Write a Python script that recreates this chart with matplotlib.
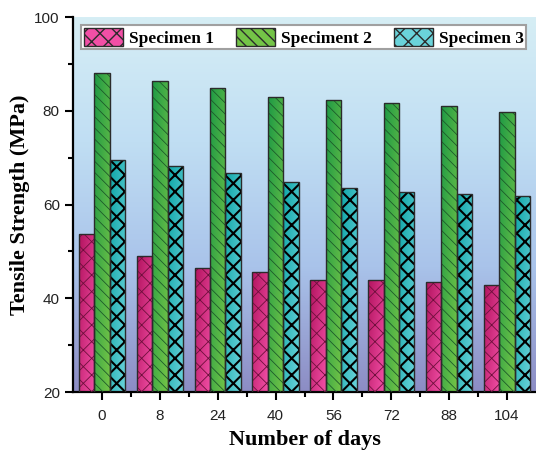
import numpy as np
import matplotlib
matplotlib.use('Agg')
import matplotlib.pyplot as plt
from matplotlib.patches import Patch
from matplotlib.colors import LinearSegmentedColormap

days = ['0', '8', '24', '40', '56', '72', '88', '104']
spec1 = [53.8, 49.0, 46.5, 45.7, 44.0, 43.8, 43.4, 42.9]
spec2 = [88.1, 86.4, 84.9, 82.9, 82.4, 81.7, 81.1, 79.7]
spec3 = [69.4, 68.3, 66.8, 64.9, 63.5, 62.6, 62.2, 61.9]
names = ['Specimen 1', 'Speciment 2', 'Specimen 3']

# dark -> light colours for bar gradients, hatch style and hatch colour
styles = [
    ('#b3145f', '#f24fa6', 'xx', '#6e0f3c', 0.6),
    ('#1e9a45', '#74c447', '\\\\\\', '#1d5a2a', 0.6),
    ('#0fa6a8', '#6ad3da', 'xx', '#000000', 1.5),
]

plt.rcParams['font.family'] = ['Liberation Sans', 'DejaVu Sans']
serif = dict(family='Liberation Serif', weight='bold')

fig = plt.figure(figsize=(5.36, 4.55), dpi=100)
ax = fig.add_axes([73 / 536, 63 / 455, 463 / 536, 375 / 455])

# background gradient
bg = LinearSegmentedColormap.from_list('bg', ['#8c8cc4', '#a9c3ea', '#c0def3', '#d6eef5'])
ax.imshow(np.linspace(0, 1, 256).reshape(-1, 1), cmap=bg, origin='lower',
          extent=[0, 1, 0, 1], transform=ax.transAxes, aspect='auto', zorder=0)

x = np.arange(len(days))
w = 0.267
series = [spec1, spec2, spec3]
ymin = 20
for i, (vals, (c0, c1, hatch, hc, hlw)) in enumerate(zip(series, styles)):
    pos = x + (i - 1) * w
    cmap = LinearSegmentedColormap.from_list('c%d' % i, [c0, c1])
    gx, gy = np.meshgrid(np.linspace(0, 1, 32), np.linspace(0, 1, 64))
    for xp, v in zip(pos, vals):
        grad = 0.55 * gx + 0.45 * (1 - gy)
        im = ax.imshow(grad, cmap=cmap, vmin=0, vmax=1, origin='lower', aspect='auto',
                       extent=[xp - w / 2, xp + w / 2, ymin, v], zorder=2)
        rect = plt.Rectangle((xp - w / 2, ymin), w, v - ymin, transform=ax.transData)
        im.set_clip_path(rect)
    with plt.rc_context({'hatch.linewidth': hlw}):
        hb = ax.bar(pos, np.array(vals) - ymin, w, bottom=ymin, facecolor='none',
                    edgecolor=hc, hatch=hatch, linewidth=0, zorder=3)
        for p in hb:
            if hasattr(p, 'set_hatch_linewidth'):
                p.set_hatch_linewidth(hlw)
    ax.bar(pos, np.array(vals) - ymin, w, bottom=ymin, facecolor='none',
           edgecolor='#2b2b2b', linewidth=1.0, zorder=4)

ax.set_xlim(-0.5, len(days) - 0.5)
ax.set_ylim(20, 100)
ax.set_xticks(x)
ax.set_xticklabels(days)
ax.set_xticks(x[:-1] + 0.5, minor=True)
ax.set_yticks([20, 40, 60, 80, 100])
ax.set_yticks([30, 50, 70, 90], minor=True)
ax.tick_params(axis='both', which='major', direction='out', length=6, width=1.5,
               labelsize=11, labelcolor='#222222', colors='black')
ax.tick_params(axis='both', which='minor', direction='out', length=3.5, width=1.5)
ax.tick_params(axis='x', pad=6)
for s in ['top', 'right']:
    ax.spines[s].set_visible(False)
for s in ['left', 'bottom']:
    ax.spines[s].set_linewidth(1.6)

ax.set_xlabel('Number of days', fontsize=16, labelpad=5, **serif)
ax.set_ylabel('Tensile Strength (MPa)', fontsize=16, labelpad=3, **serif)

handles = []
for name, (c0, c1, hatch, hc, hlw) in zip(names, styles):
    handles.append(Patch(facecolor=c1, edgecolor='#2b2b2b', hatch=hatch, label=name))
leg = ax.legend(handles=handles, loc='upper center', bbox_to_anchor=(0.4985, 0.978),
                ncol=3, frameon=True, fancybox=False, borderaxespad=0,
                handlelength=2.25, handleheight=1.2, handletextpad=0.35,
                columnspacing=1.25, borderpad=0.15,
                prop=dict(family='Liberation Serif', weight='bold', size=12.5))
leg.get_frame().set_edgecolor('#a0a0a0')
leg.get_frame().set_linewidth(1.5)
leg.get_frame().set_facecolor('white')
leg.get_frame().set_alpha(1)
leg.set_zorder(10)

fig.savefig('out.png', dpi=100)
